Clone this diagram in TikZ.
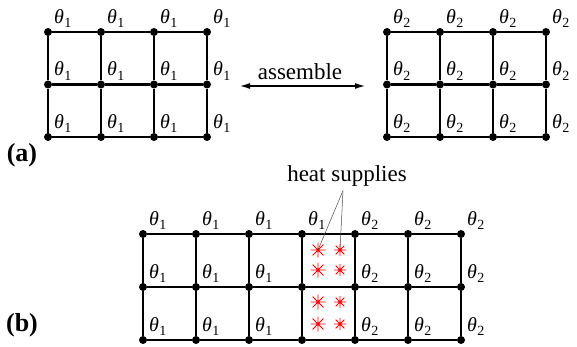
\documentclass[tikz,border=0pt]{standalone}
\usepackage{fontspec}
\setmainfont{Liberation Serif}
\usepackage{tikz}
\usetikzlibrary{arrows.meta,positioning,calc}

\newcommand{\thl}[1]{\textit{θ}\kern0.3pt\raisebox{-0.22em}{\fontsize{14}{14}\selectfont #1}}
\newcommand{\heatstar}[2]{%
  \draw[red, line width=0.9pt] (#1) ++(-#2,0) -- ++(2*#2,0)
    (#1) ++(0,-#2) -- ++(0,2*#2)
    (#1) ++(-0.72*#2,-0.72*#2) -- ++(1.44*#2,1.44*#2)
    (#1) ++(-0.72*#2,0.72*#2) -- ++(1.44*#2,-1.44*#2);
  \fill[red] (#1) circle (1.5pt);}

\tikzset{
  dot/.style={circle, fill=black, inner sep=0pt, minimum size=8pt},
  gridline/.style={line width=2.5pt},
  thlab/.style={inner sep=0pt, font=\fontsize{20}{20}\selectfont},
  txt/.style={inner sep=0pt, font=\fontsize{23}{23}\selectfont},
  panel/.style={inner sep=0pt, font=\fontsize{26}{26}\selectfont\bfseries}
}

\begin{document}
\begin{tikzpicture}[x=1pt, y=-1pt]
\useasboundingbox (0,0) rectangle (577,347);

% (a) left block, theta_1
\foreach \i in {0,...,3}
  \foreach \j in {0,...,2}
    \node[dot] (L\i\j) at (48+53*\i, 32+52.5*\j) {};
\foreach \j in {0,1,2}
  \draw[gridline] (L0\j) -- (L1\j) -- (L2\j) -- (L3\j);
\foreach \i in {0,...,3}
  \draw[gridline] (L\i0) -- (L\i1) -- (L\i2);
\foreach \i in {0,...,3}
  \foreach \j in {0,1,2}
    \node[thlab, above right=4pt and 6pt of L\i\j.center] {\thl{1}};

% (a) right block, theta_2
\foreach \i in {0,...,3}
  \foreach \j in {0,...,2}
    \node[dot] (R\i\j) at (387+53*\i, 32+52.5*\j) {};
\foreach \j in {0,1,2}
  \draw[gridline] (R0\j) -- (R1\j) -- (R2\j) -- (R3\j);
\foreach \i in {0,...,3}
  \draw[gridline] (R\i0) -- (R\i1) -- (R\i2);
\foreach \i in {0,...,3}
  \foreach \j in {0,1,2}
    \node[thlab, above right=4pt and 6pt of R\i\j.center] {\thl{2}};

% assemble arrow
\coordinate (asmL) at (240,86);
\coordinate (asmR) at (365,86);
\draw[line width=1.2pt, {Latex[length=10pt,width=6pt]}-{Latex[length=10pt,width=6pt]}] (asmL) -- (asmR);
\node[txt] (asm) at (300,72) {assemble};

\node[panel] (pa) at (22,155) {(a)};

% (b) assembled block
\foreach \i in {0,...,6}
  \foreach \j in {0,...,2}
    \node[dot] (B\i\j) at (143+53*\i, 234+53*\j) {};
\foreach \j in {0,1,2}
  \draw[gridline] (B0\j) -- (B1\j) -- (B2\j) -- (B3\j) -- (B4\j) -- (B5\j) -- (B6\j);
\foreach \i in {0,...,6}
  \draw[gridline] (B\i0) -- (B\i1) -- (B\i2);
\foreach \i in {0,...,3}
  \node[thlab, above right=4pt and 6pt of B\i0.center] {\thl{1}};
\foreach \i in {4,5,6}
  \node[thlab, above right=4pt and 6pt of B\i0.center] {\thl{2}};
\foreach \i in {0,1,2}
  \foreach \j in {1,2}
    \node[thlab, above right=4pt and 6pt of B\i\j.center] {\thl{1}};
\foreach \i in {4,5,6}
  \foreach \j in {1,2}
    \node[thlab, above right=4pt and 6pt of B\i\j.center] {\thl{2}};

% heat supplies
\coordinate (s1) at (318,250);
\coordinate (s2) at (340,250);
\coordinate (s3) at (318,270);
\coordinate (s4) at (340,270);
\coordinate (s5) at (318,302);
\coordinate (s6) at (340,302);
\coordinate (s7) at (318,324);
\coordinate (s8) at (340,324);
\foreach \s in {s1,s3,s5,s7} {\heatstar{\s}{7.5}}
\foreach \s in {s2,s4,s6,s8} {\heatstar{\s}{6}}

\node[txt] (hs) at (347,176) {heat supplies};
\coordinate (tip) at ($(hs.south)+(-4,4)$);
\draw[gray!60!black, line width=0.5pt] (tip) -- (s1);
\draw[gray!60!black, line width=0.5pt] (tip) -- (s2);

\node[panel] (pb) at (22,325) {(b)};
\end{tikzpicture}
\end{document}
